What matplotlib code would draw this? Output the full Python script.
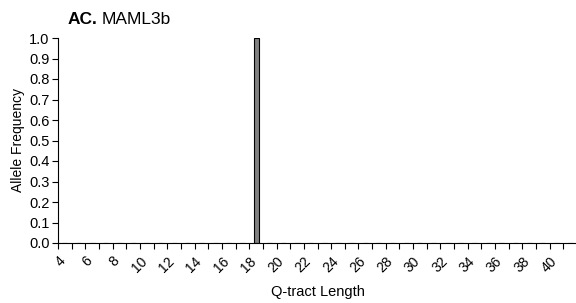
import matplotlib.pyplot as plt
import matplotlib.transforms as mtransforms
import numpy as np

plt.rcParams['font.family'] = ['Liberation Sans', 'DejaVu Sans']

# Q-tract lengths (categories) and allele frequencies
lengths = list(range(4, 42))
freqs = [0.0] * len(lengths)
freqs[lengths.index(18)] = 1.0
label_lengths = list(range(4, 41, 2))
y_ticks = [round(0.1 * i, 1) for i in range(11)]

fig = plt.figure(figsize=(5.76, 3.03), dpi=100)
ax = fig.add_axes([58 / 576, 60 / 303, 519 / 576, 205 / 303])

ax.bar(lengths, freqs, width=0.37, color='#808080', edgecolor='black', linewidth=0.8)

ax.set_xlim(3.5, 41.5)
ax.set_ylim(0, 1.0)

# category boundary ticks
ax.set_xticks([x + 0.5 for x in range(3, 42)], minor=True)
ax.set_xticks(label_lengths)
ax.set_xticklabels([str(v) for v in label_lengths], rotation=45, ha='right',
                   rotation_mode='anchor', fontsize=10)
ax.tick_params(axis='x', which='major', length=0, pad=8)
ax.tick_params(axis='x', which='minor', length=4, width=0.8, direction='out')
shift = mtransforms.ScaledTranslation(-5 / 72, 0, fig.dpi_scale_trans)
for lbl in ax.get_xticklabels():
    lbl.set_transform(lbl.get_transform() + shift)

ax.set_yticks(y_ticks)
ax.set_yticklabels([f'{v:.1f}' for v in y_ticks], fontsize=10.5)
ax.tick_params(axis='y', length=4, width=0.8, direction='out', pad=2)

ax.spines['top'].set_visible(False)
ax.spines['right'].set_visible(False)
ax.spines['left'].set_linewidth(0.8)
ax.spines['bottom'].set_linewidth(0.8)

ax.set_xlabel('Q-tract Length', fontsize=10.5, labelpad=7)
ax.set_ylabel('Allele Frequency', fontsize=10, labelpad=3)

fig.text(68 / 576, 1 - 20 / 303, 'AC.', fontsize=12.5, fontweight='bold', va='center')
fig.text(102 / 576, 1 - 20 / 303, 'MAML3b', fontsize=12.5, va='center')

fig.savefig('out.png', dpi=100)
